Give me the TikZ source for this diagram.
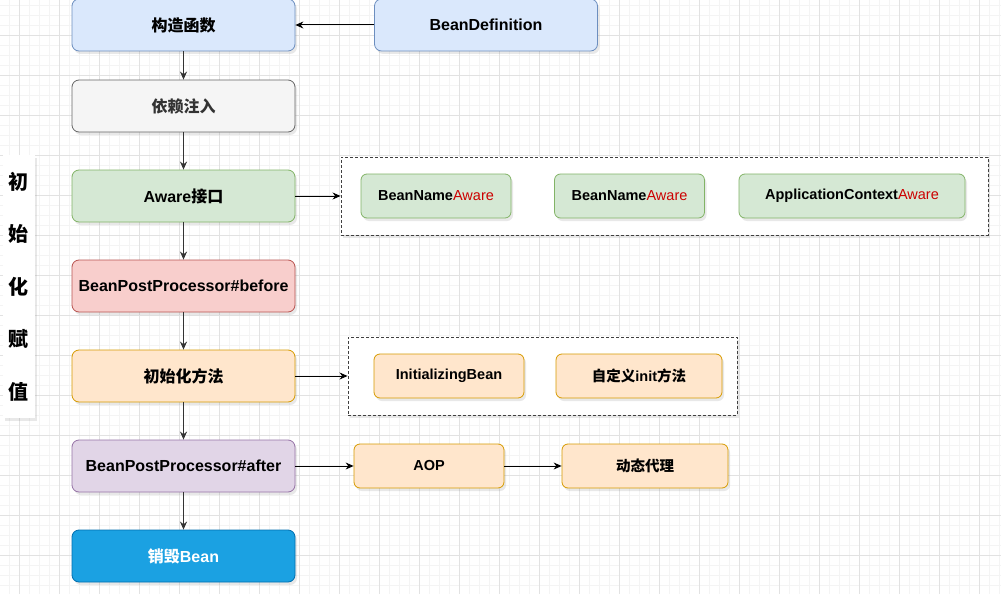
\documentclass[tikz,border=0pt]{standalone}
\usepackage{fontspec}
\setmainfont{Liberation Sans}
\newfontfamily\cjk{Noto Sans CJK SC}
\usetikzlibrary{arrows.meta,shadows}

% draw.io palette
\definecolor{blueFill}{HTML}{DAE8FC}
\definecolor{blueLine}{HTML}{6C8EBF}
\definecolor{grayFill}{HTML}{F5F5F5}
\definecolor{grayLine}{HTML}{666666}
\definecolor{grayText}{HTML}{333333}
\definecolor{greenFill}{HTML}{D5E8D4}
\definecolor{greenLine}{HTML}{82B366}
\definecolor{redFill}{HTML}{F8CECC}
\definecolor{redLine}{HTML}{B85450}
\definecolor{orangeFill}{HTML}{FFE6CC}
\definecolor{orangeLine}{HTML}{D79B00}
\definecolor{purpleFill}{HTML}{E1D5E7}
\definecolor{purpleLine}{HTML}{9673A6}
\definecolor{deepFill}{HTML}{1BA1E2}
\definecolor{deepLine}{HTML}{006EAF}
\definecolor{awareRed}{HTML}{CC0000}
\definecolor{gridMinor}{HTML}{F4F4F4}
\definecolor{gridMajor}{HTML}{E2E2E2}

\newcommand{\awr}{\textcolor{awareRed}{\mdseries Aware}}

\tikzset{
  shade/.style={drop shadow={shadow xshift=2pt,shadow yshift=-3pt,opacity=.18}},
  stage/.style={draw, rounded corners=7pt, line width=0.8pt, shade,
    minimum width=223pt, minimum height=52pt,
    font=\bfseries\fontsize{16}{19}\selectfont},
  part/.style={draw, rounded corners=6pt, line width=0.8pt, shade,
    minimum height=44pt, font=\bfseries\fontsize{14.5}{17}\selectfont},
  group/.style={draw=black!75, dash pattern=on 3pt off 2pt, line width=0.9pt,
    fill=white, shade},
  blueBox/.style={fill=blueFill, draw=blueLine},
  grayBox/.style={fill=grayFill, draw=grayLine, text=grayText},
  greenBox/.style={fill=greenFill, draw=greenLine},
  redBox/.style={fill=redFill, draw=redLine},
  orangeBox/.style={fill=orangeFill, draw=orangeLine},
  purpleBox/.style={fill=purpleFill, draw=purpleLine},
  deepBox/.style={fill=deepFill, draw=deepLine, text=white},
  flow/.style={-{Stealth[length=8pt,width=7pt]}, line width=1pt},
  down/.style={flow, draw=black!80, line width=1.3pt},
}

\begin{document}
\begin{tikzpicture}[x=1pt,y=-1pt]
  \useasboundingbox (0,0) rectangle (1001,594);
  \fill[white] (0,0) rectangle (1001,594);

  % background grid
  \foreach \x in {9,19,...,999}
    \draw[gridMinor, line width=0.6pt] (\x,0) -- (\x,594);
  \foreach \y in {5,15,...,594}
    \draw[gridMinor, line width=0.6pt] (0,\y) -- (1001,\y);
  \foreach \x in {19,59,...,999}
    \draw[gridMajor, line width=0.7pt] (\x,0) -- (\x,594);
  \foreach \y in {35,75,...,594}
    \draw[gridMajor, line width=0.7pt] (0,\y) -- (1001,\y);

  % main chain
  \node[stage, blueBox]   (ctor)   at (183.5,25)  {\cjk 构造函数};
  \node[stage, blueBox]   (bdef)   at (486,25)    {BeanDefinition};
  \node[stage, grayBox]   (inject) at (183.5,106) {\cjk 依赖注入};
  \node[stage, greenBox]  (aware)  at (183.5,196) {Aware{\cjk 接口}};
  \node[stage, redBox]    (before) at (183.5,286) {BeanPostProcessor\#before};
  \node[stage, orangeBox] (init)   at (183.5,376) {{\cjk 初始化方法}};
  \node[stage, purpleBox] (after)  at (183.5,466) {BeanPostProcessor\#after};
  \node[stage, deepBox]   (destroy) at (183.5,556) {{\cjk 销毁}Bean};

  % side label
  \node[fill=white, shade, minimum width=32pt, minimum height=263pt,
        align=center, font=\bfseries\fontsize{20}{52.5}\selectfont]
        (phase) at (19,286.5) {\cjk 初\\\cjk 始\\\cjk 化\\\cjk 赋\\\cjk 值};

  % aware group
  \node[group, minimum width=647pt, minimum height=78pt] (awareGrp) at (664.5,196) {};
  \node[part, greenBox, minimum width=150pt] (nameAware) at (436,196) {BeanName\awr};
  \node[part, greenBox, minimum width=150pt] (nameAware2) at (629.5,196) {BeanName\awr};
  \node[part, greenBox, minimum width=226pt] (ctxAware) at (852,196) {ApplicationContext\awr};

  % init group
  \node[group, minimum width=389pt, minimum height=78pt] (initGrp) at (542.5,376) {};
  \node[part, orangeBox, minimum width=150pt] (initBean) at (449,376) {InitializingBean};
  \node[part, orangeBox, minimum width=166pt] (initMethod) at (639,376)
        {{\cjk 自定义}init{\cjk 方法}};

  % after processing
  \node[part, orangeBox, minimum width=150pt] (aop) at (429,466) {AOP};
  \node[part, orangeBox, minimum width=166pt] (proxy) at (645,466) {\cjk 动态代理};

  % connectors
  \draw[down] (ctor) -- (inject);
  \draw[down] (inject) -- (aware);
  \draw[down] (aware) -- (before);
  \draw[down] (before) -- (init);
  \draw[down] (init) -- (after);
  \draw[down] (after) -- (destroy);
  \draw[flow] (bdef) -- (ctor);
  \draw[flow] (aware) -- (awareGrp);
  \draw[flow] (init) -- (initGrp);
  \draw[flow] (after) -- (aop);
  \draw[flow] (aop) -- (proxy);
\end{tikzpicture}
\end{document}
